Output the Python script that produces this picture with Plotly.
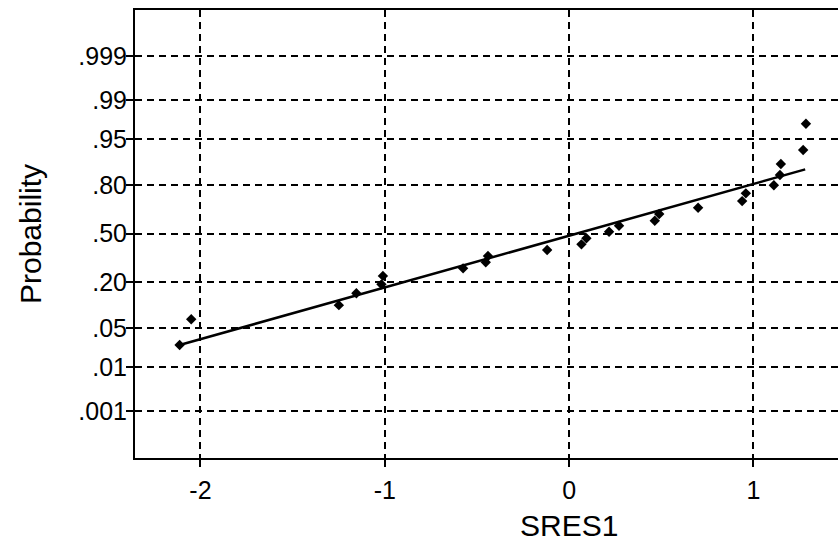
from statistics import NormalDist
import plotly.graph_objects as go

# Standardized residuals (x) and their plotted probabilities (y)
sres1 = [-2.113, -2.050, -1.249, -1.154, -1.018, -1.010, -0.575, -0.452, -0.440,
         -0.119, 0.067, 0.094, 0.217, 0.271, 0.465, 0.489, 0.700, 0.939, 0.959,
         1.111, 1.144, 1.149, 1.270, 1.285]
prob = [0.026, 0.0675, 0.106, 0.149, 0.188, 0.230, 0.272, 0.308, 0.348,
        0.387, 0.425, 0.467, 0.512, 0.554, 0.588, 0.633, 0.673, 0.714, 0.758,
        0.800, 0.846, 0.887, 0.927, 0.972]

# Fitted reference line endpoints
line_x = [-2.113, 1.281]
line_p = [0.026, 0.868]

# Probability tick labels
tick_p = [0.001, 0.01, 0.05, 0.20, 0.50, 0.80, 0.95, 0.99, 0.999]
tick_text = [".001", ".01", ".05", ".20", ".50", ".80", ".95", ".99", ".999"]

nd = NormalDist()
z = lambda ps: [nd.inv_cdf(p) for p in ps]

fig = go.Figure()
fig.add_trace(go.Scatter(x=line_x, y=z(line_p), mode="lines",
                         line=dict(color="black", width=2.5), hoverinfo="skip"))
fig.add_trace(go.Scatter(x=sres1, y=z(prob), mode="markers",
                         marker=dict(symbol="diamond", size=8, color="black")))

font_family = "Liberation Sans, Arial, sans-serif"
grid = dict(showgrid=True, gridcolor="black", gridwidth=1.6, griddash="7px,5px",
            zeroline=False, showline=True, linecolor="black", linewidth=2,
            ticks="outside", ticklen=7, tickwidth=1.5, tickcolor="black",
            tickfont=dict(family=font_family, size=25, color="black"))

fig.update_layout(
    width=838, height=546,
    margin=dict(l=135, r=0, t=10, b=88),
    paper_bgcolor="white", plot_bgcolor="white",
    showlegend=False,
    xaxis=dict(range=[-2.355, 1.459], tickvals=[-2, -1, 0, 1],
               ticktext=["-2", "-1", "0", "1"], mirror=True,
               ticklabelstandoff=2, **grid),
    yaxis=dict(range=[-3.911, 3.894], tickvals=z(tick_p), ticktext=tick_text,
               ticklabelstandoff=-6, **grid),
    annotations=[
        dict(text="SRES1", x=0, xref="x", y=0, yref="paper", yanchor="middle",
             yshift=-67, showarrow=False,
             font=dict(family=font_family, size=30, color="black")),
        dict(text="Probability", x=0, xref="paper", xanchor="center", xshift=-105,
             y=0.5, yref="paper", textangle=-90, showarrow=False,
             font=dict(family=font_family, size=30, color="black")),
    ],
)

fig.write_html("out.html")
